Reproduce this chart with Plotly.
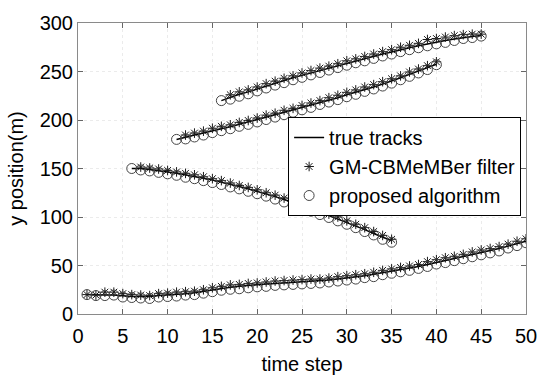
import plotly.graph_objects as go

# ---- data ----
t1 = list(range(1, 51))
true1 = [20, 19.5, 19.5, 19.5, 18.5, 18, 18, 18, 19, 19.5,
         20, 21, 22, 23.5, 25, 26.5, 27.5, 28.5, 29.5, 30,
         31, 31.5, 32, 32.5, 33, 33.5, 34, 35, 36, 37,
         38, 39.5, 41, 42.5, 44, 45.5, 47, 49, 51, 53,
         55, 57, 59, 61, 63, 65, 67.5, 70, 72.5, 75]
gm1 = [20, 19.5, 22.5, 22.5, 21, 20, 19.5, 19, 21, 21.5,
       22.5, 23, 23.5, 25, 27, 28.5, 30, 30.5, 31.5, 32,
       33, 34, 34.5, 35, 35.5, 36, 36, 37, 38.5, 39.5,
       40.5, 41.5, 43, 45, 46.5, 48, 49.5, 51, 54, 56,
       58, 59.5, 61.5, 64, 66, 67.5, 69.5, 72, 75, 77.5]
pr1 = [20, 19, 19, 19.5, 17.5, 17, 16.5, 16, 17.5, 18,
       18.5, 19.5, 20, 21.5, 23, 24.5, 25.5, 26, 27, 28,
       28.5, 29.5, 30, 30.5, 31, 31.5, 32, 33, 34, 35,
       36, 37.5, 38.5, 40.5, 42, 43.5, 45, 47, 49, 51.5,
       53, 55, 57, 59, 61, 63, 65, 68, 70.5, 73.5]

t2 = list(range(6, 36))
true2 = [150, 150, 149, 148, 146.5, 145, 143.5, 142, 140, 138,
         136, 134, 131.5, 129, 126.5, 124, 121, 118, 115, 112,
         108.5, 105, 101.5, 98, 94, 90.5, 87, 83, 79, 75.5]
gm2_t = list(range(7, 36))
gm2 = [151.5, 150.5, 149.5, 148, 146.5, 145, 143.5, 141.5, 139.5,
       137.5, 135, 132.5, 130.5, 128, 125, 122.5, 119.5, 116.5, 113,
       110, 106.5, 103, 100, 96, 92.5, 89, 85, 81, 77]
pr2 = [150, 148.5, 147.5, 146, 144.5, 143, 141, 139.5, 137.5, 135.5,
       133.5, 131, 129, 126.5, 124, 121.5, 118.5, 115.5, 112.5, 109.5,
       106, 102.5, 99.5, 96, 92.5, 89, 85, 81.5, 77, 74]

t3 = list(range(11, 41))
true3 = [180, 182.5, 184.5, 186.5, 189, 191, 193, 195.5, 197.5, 200,
         202.5, 205, 207.5, 210, 212.5, 215, 218, 220.5, 223, 226,
         228.5, 231.5, 234, 237, 240, 243.5, 247, 250.5, 254, 257.5]
gm3_t = list(range(12, 41))
gm3 = [184.5, 186.5, 188.5, 191.5, 193.5, 195, 197.5, 199.5, 202,
       205, 207, 210, 212, 215, 217.5, 220, 223, 225.5, 228.5,
       231, 234, 236.5, 239.5, 242.5, 245.5, 249.5, 252.5, 256, 260]
pr3 = [180, 180.5, 182.5, 184.5, 187, 189, 191, 193.5, 195.5, 198,
       200.5, 203, 205.5, 208, 210.5, 213, 216, 218.5, 221, 224,
       226.5, 229.5, 232, 235, 238, 241.5, 245, 248.5, 252, 257]

t4 = list(range(16, 46))
true4 = [220, 223.5, 226.5, 229, 232, 235, 238, 241, 243.5, 246,
         248.5, 251, 253.5, 256, 258.5, 261, 263, 265.5, 268, 270,
         272.5, 274.5, 276.5, 278.5, 280.5, 282, 283.5, 285, 286, 287]
gm4_t = list(range(17, 46))
gm4 = [226, 229, 231, 234, 237.5, 240, 243, 245.5, 248.5,
       251, 253.5, 255.5, 258, 261, 263, 265.5, 268, 270.5, 272.5,
       275, 277, 279, 283, 284, 285.5, 287, 288, 288.5, 288.5]
pr4 = [220, 221.5, 224.5, 227, 230, 233, 236, 238.5, 241.5, 244,
       246.5, 249, 251.5, 254, 256.5, 259, 261, 263.5, 266, 268,
       270.5, 272.5, 274.5, 276.5, 278.5, 280, 282, 284, 285, 286.5]

names = ["true tracks", "GM-CBMeMBer filter", "proposed algorithm"]
x_ticks = [0, 5, 10, 15, 20, 25, 30, 35, 40, 45, 50]
y_ticks = [0, 50, 100, 150, 200, 250, 300]


def join(pairs):
    xs, ys = [], []
    for xx, yy in pairs:
        xs += list(xx) + [None]
        ys += list(yy) + [None]
    return xs, ys


tx, ty = join([(t1, true1), (t2, true2), (t3, true3), (t4, true4)])
gx, gy = join([(t1, gm1), (gm2_t, gm2), (gm3_t, gm3), (gm4_t, gm4)])
px, py = join([(t1, pr1), (t2, pr2), (t3, pr3), (t4, pr4)])

fig = go.Figure()
fig.add_trace(go.Scatter(x=tx, y=ty, mode="lines", name=names[0],
                         line=dict(color="black", width=1.5)))
fig.add_trace(go.Scatter(x=gx, y=gy, mode="markers", name=names[1],
                         marker=dict(symbol="asterisk-open", size=8, color="#1a1a1a",
                                     line=dict(color="#1a1a1a", width=1))))
fig.add_trace(go.Scatter(x=px, y=py, mode="markers", name=names[2],
                         marker=dict(symbol="circle-open", size=10,
                                     color="#444444",
                                     line=dict(color="#444444", width=1))))

font = dict(family="Liberation Sans, Arial, sans-serif", size=20, color="black")
axis_common = dict(showline=True, linecolor="#8a8a8a", linewidth=1, mirror="allticks",
                   ticks="inside", ticklen=5, tickcolor="#666666",
                   showgrid=True, gridcolor="#ebebeb", griddash="dot", gridwidth=1,
                   zeroline=False, tickfont=font)

fig.update_layout(
    width=549, height=383,
    margin=dict(l=78, r=13, t=20, b=60),
    paper_bgcolor="white", plot_bgcolor="white",
    font=font,
    showlegend=True,
    legend=dict(x=0.469, y=0.677, xanchor="left", yanchor="top",
                bgcolor="white", bordercolor="black", borderwidth=1,
                font=dict(family="Liberation Sans, Arial, sans-serif", size=20, color="black"),
                itemwidth=30, tracegroupgap=0),
    xaxis=dict(range=[0, 50], tickvals=x_ticks, ticktext=[str(v) for v in x_ticks],
               ticklabelstandoff=4,
               title=dict(text="time step", font=font, standoff=10), **axis_common),
    yaxis=dict(range=[0, 300], tickvals=y_ticks, ticktext=[str(v) for v in y_ticks],
               title=dict(text="y position(m)", font=font, standoff=10), **axis_common),
)

fig.write_html("out.html")
